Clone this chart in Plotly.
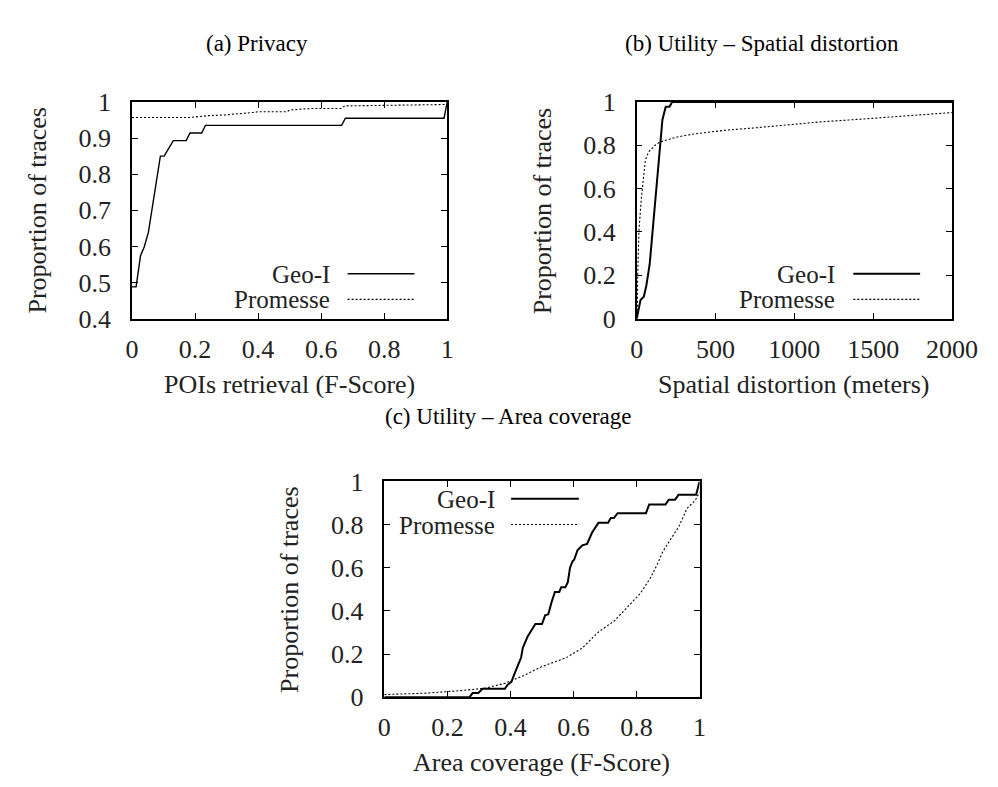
import plotly.graph_objects as go

# ---------------- data ----------------
# (a) Privacy: POIs retrieval (F-Score) CDF
a_geoi_x = [0.0, 0.013, 0.027, 0.039, 0.052, 0.064, 0.078, 0.090, 0.102, 0.131, 0.172,
            0.184, 0.221, 0.233, 0.665, 0.677, 0.990, 1.0]
a_geoi_y = [0.488, 0.488, 0.574, 0.599, 0.639, 0.706, 0.795, 0.850, 0.850, 0.893, 0.893,
            0.914, 0.914, 0.935, 0.935, 0.955, 0.955, 1.0]
a_prom_x = [0.0, 0.182, 0.243, 0.294, 0.386, 0.402, 0.489, 0.504, 0.571, 0.663, 0.675, 0.85, 1.0]
a_prom_y = [0.957, 0.957, 0.962, 0.964, 0.971, 0.973, 0.973, 0.978, 0.982, 0.982, 0.989, 0.991, 0.993]

# (b) Utility - spatial distortion (meters) CDF
b_geoi_x = [0, 14, 24, 45, 61, 82, 102, 127, 147, 163, 184, 208, 224, 2000]
b_geoi_y = [0.0, 0.049, 0.086, 0.101, 0.153, 0.25, 0.42, 0.614, 0.807, 0.918, 0.978, 0.978, 1.0, 1.0]
b_prom_x = [0, 4, 6, 14, 29, 41, 55, 76, 116, 147, 249, 351, 555, 759, 963, 1167, 1371, 1576, 1780, 2000]
b_prom_y = [0.0, 0.05, 0.2, 0.406, 0.555, 0.643, 0.733, 0.77, 0.80, 0.815, 0.837, 0.851, 0.869,
            0.881, 0.896, 0.908, 0.918, 0.929, 0.941, 0.951]

# (c) Utility - area coverage (F-Score) CDF
c_geoi_x = [0.0, 0.27, 0.28, 0.298, 0.311, 0.382, 0.39, 0.403, 0.413, 0.423, 0.434, 0.439, 0.454,
            0.479, 0.50, 0.51, 0.52, 0.531, 0.541, 0.555, 0.561, 0.574, 0.582, 0.589, 0.597,
            0.602, 0.613, 0.628, 0.643, 0.659, 0.679, 0.71, 0.718, 0.728, 0.74, 0.83, 0.84,
            0.892, 0.902, 0.922, 0.933, 0.989, 1.0]
c_geoi_y = [0.0, 0.0, 0.019, 0.019, 0.039, 0.039, 0.056, 0.071, 0.109, 0.147, 0.185, 0.228, 0.28,
            0.339, 0.339, 0.379, 0.384, 0.443, 0.488, 0.488, 0.51, 0.51, 0.533, 0.60, 0.63,
            0.637, 0.682, 0.704, 0.71, 0.763, 0.808, 0.808, 0.83, 0.83, 0.853, 0.853, 0.893,
            0.893, 0.915, 0.915, 0.938, 0.938, 1.0]
c_prom_x = [0.0, 0.137, 0.239, 0.321, 0.382, 0.423, 0.443, 0.50, 0.577, 0.628, 0.679, 0.73, 0.781,
            0.812, 0.843, 0.868, 0.883, 0.935, 0.96, 0.986, 1.0]
c_prom_y = [0.012, 0.019, 0.03, 0.042, 0.064, 0.09, 0.101, 0.142, 0.183, 0.228, 0.302, 0.354,
            0.436, 0.481, 0.55, 0.622, 0.674, 0.793, 0.875, 0.912, 0.95]

series_names = ["Geo-I", "Promesse"]
panel_titles = ["(a) Privacy", "(b) Utility \u2013 Spatial distortion", "(c) Utility \u2013 Area coverage"]
x_titles = ["POIs retrieval (F-Score)", "Spatial distortion (meters)", "Area coverage (F-Score)"]
y_title = "Proportion of traces"

a_xticks = [0, 0.2, 0.4, 0.6, 0.8, 1]
a_yticks = [0.4, 0.5, 0.6, 0.7, 0.8, 0.9, 1]
b_xticks = [0, 500, 1000, 1500, 2000]
b_yticks = [0, 0.2, 0.4, 0.6, 0.8, 1]
c_xticks = [0, 0.2, 0.4, 0.6, 0.8, 1]
c_yticks = [0, 0.2, 0.4, 0.6, 0.8, 1]

# ---------------- layout helpers ----------------
W, H = 998, 787
FONT = "Liberation Serif, DejaVu Serif, serif"
TXT = "#222222"


def px(x):
    return x / W


def py(y):
    return 1 - y / H


# plot frames in pixels: (left, right, top, bottom)
frames = {
    "a": (121, 447, 83, 308),
    "b": (643, 969, 83, 308),
    "c": (382, 708, 477, 701),
}

fig = go.Figure()

dotted = dict(color="black", width=1.1, dash="2px,2px")

fig.add_trace(go.Scatter(x=a_geoi_x, y=a_geoi_y, mode="lines", line=dict(color="black", width=1.4),
                         xaxis="x", yaxis="y", showlegend=False))
fig.add_trace(go.Scatter(x=a_prom_x, y=a_prom_y, mode="lines", line=dotted, xaxis="x", yaxis="y", showlegend=False))
fig.add_trace(go.Scatter(x=b_geoi_x, y=b_geoi_y, mode="lines", line=dict(color="black", width=2),
                         xaxis="x2", yaxis="y2", showlegend=False))
fig.add_trace(go.Scatter(x=b_prom_x, y=b_prom_y, mode="lines", line=dotted, xaxis="x2", yaxis="y2", showlegend=False))
fig.add_trace(go.Scatter(x=c_geoi_x, y=c_geoi_y, mode="lines", line=dict(color="black", width=2),
                         xaxis="x3", yaxis="y3", showlegend=False))
fig.add_trace(go.Scatter(x=c_prom_x, y=c_prom_y, mode="lines", line=dotted, xaxis="x3", yaxis="y3", showlegend=False))

axis_common = dict(
    showline=True, linecolor="black", linewidth=1.5, mirror="ticks",
    ticks="inside", ticklen=6, tickwidth=1, tickcolor="black",
    showgrid=False, zeroline=False,
    tickfont=dict(family=FONT, size=26, color=TXT),
)


def xaxis(key, rng, ticks, anchor):
    l, r, t, b = frames[key]
    return dict(axis_common, domain=[px(l), px(r)], range=rng, tickvals=ticks,
                anchor=anchor, ticklabelstandoff=6)


def yaxis(key, rng, ticks, anchor):
    l, r, t, b = frames[key]
    return dict(axis_common, domain=[py(b), py(t)], range=rng, tickvals=ticks,
                anchor=anchor, ticklabelstandoff=14)


fig.update_layout(
    width=W, height=H,
    margin=dict(l=0, r=0, t=0, b=0),
    paper_bgcolor="white", plot_bgcolor="white",
    showlegend=False,
    xaxis=xaxis("a", [0, 1], a_xticks, "y"),
    yaxis=yaxis("a", [0.4, 1], a_yticks, "x"),
    xaxis2=xaxis("b", [0, 2000], b_xticks, "y2"),
    yaxis2=yaxis("b", [0, 1], b_yticks, "x2"),
    xaxis3=xaxis("c", [0, 1], c_xticks, "y3"),
    yaxis3=yaxis("c", [0, 1], c_yticks, "x3"),
)

ann = []
# panel titles
for text, (cx, cy) in zip(panel_titles, [(250, 22), (773, 22), (510, 410)]):
    ann.append(dict(text=text, x=px(cx), y=py(cy), xref="paper", yref="paper",
                    xanchor="center", yanchor="middle", showarrow=False,
                    font=dict(family=FONT, size=23, color="black")))
# x titles
for text, key in zip(x_titles, ["a", "b", "c"]):
    l, r, t, b = frames[key]
    ann.append(dict(text=text, x=px((l + r) / 2), y=py(b + 68), xref="paper", yref="paper",
                    xanchor="center", yanchor="middle", showarrow=False,
                    font=dict(family=FONT, size=26, color=TXT)))
# y titles
for key in ["a", "b", "c"]:
    l, r, t, b = frames[key]
    ann.append(dict(text=y_title, x=px(l - 98), y=py((t + b) / 2), xref="paper", yref="paper",
                    xanchor="center", yanchor="middle", showarrow=False, textangle=-90,
                    font=dict(family=FONT, size=26, color=TXT)))

# legends (text right-aligned, sample line to the right), in axis-domain coords
legend_pos = {
    "a": dict(tx=0.632, l0=0.684, l1=0.896, y=[0.207, 0.089], w=1.4),
    "b": dict(tx=0.632, l0=0.687, l1=0.899, y=[0.207, 0.089], w=2),
    "c": dict(tx=0.353, l0=0.402, l1=0.617, y=[0.92, 0.80], w=2),
}
axis_ids = {"a": ("x", "y"), "b": ("x2", "y2"), "c": ("x3", "y3")}
shapes = []
for key, lp in legend_pos.items():
    xa, ya = axis_ids[key]
    for i, name in enumerate(series_names):
        ann.append(dict(text=name, x=lp["tx"], y=lp["y"][i], xref=xa + " domain", yref=ya + " domain",
                        xanchor="right", yanchor="middle", showarrow=False, height=24, borderpad=0,
                        font=dict(family=FONT, size=25, color=TXT)))
        ln = dict(color="black", width=lp["w"]) if i == 0 else dotted
        shapes.append(dict(type="line", x0=lp["l0"], x1=lp["l1"], y0=lp["y"][i], y1=lp["y"][i],
                           xref=xa + " domain", yref=ya + " domain", line=ln))

fig.update_layout(annotations=ann, shapes=shapes)

fig.write_html("out.html")
